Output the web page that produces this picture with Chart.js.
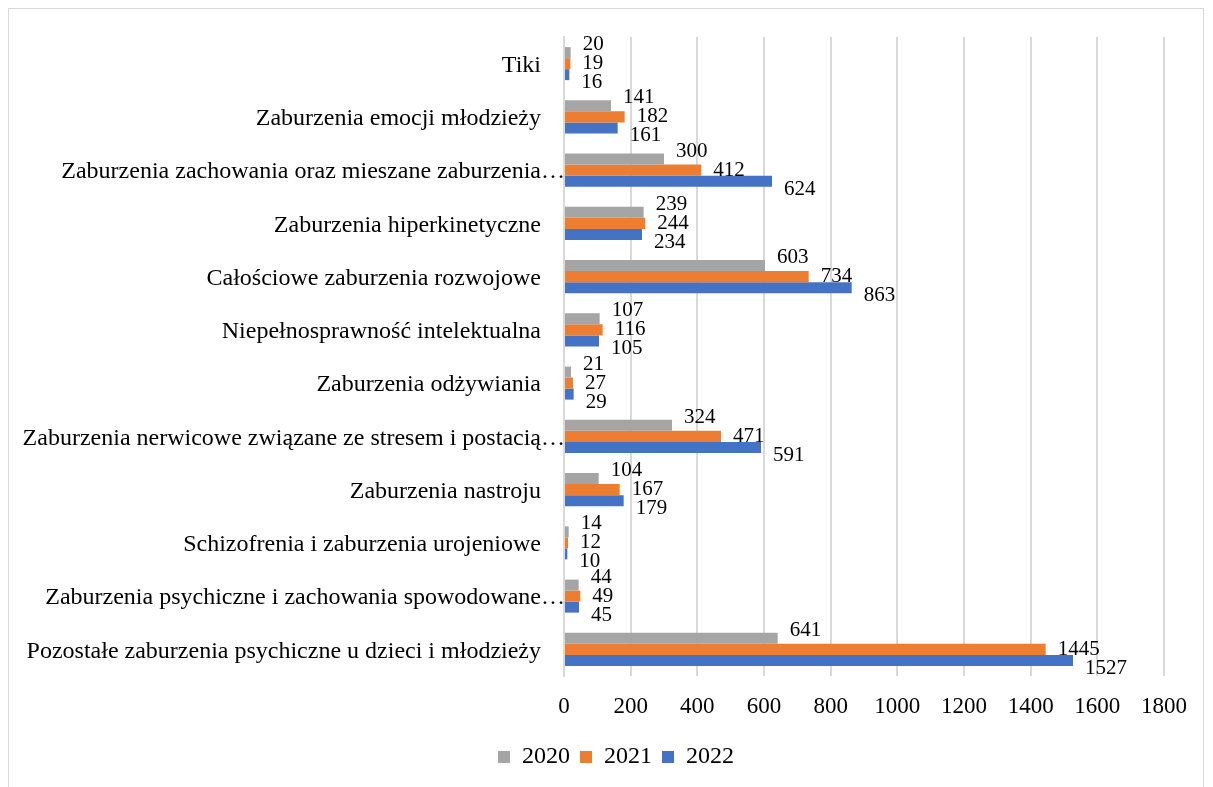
<!DOCTYPE html>
<html>
<head>
<meta charset="utf-8">
<script src="https://cdn.jsdelivr.net/npm/chart.js@4.4.1/dist/chart.umd.min.js"></script>
<style>
  body { margin: 0; background: #fff; overflow: hidden; }
  .frame {
    position: absolute; left: 8px; top: 8px;
    width: 1196px; height: 800px;
    border: 1px solid #d9d9d9; box-sizing: border-box;
  }
  .wrap { position: absolute; left: 9px; top: 9px; width: 1195px; height: 778px; }
</style>
</head>
<body>
<div class="frame"></div>
<div class="wrap"><canvas id="myChart"></canvas></div>
<script>
// categories (top to bottom)
const categories = [
  "Tiki",
  "Zaburzenia emocji młodzieży",
  "Zaburzenia zachowania oraz mieszane zaburzenia…",
  "Zaburzenia hiperkinetyczne",
  "Całościowe zaburzenia rozwojowe",
  "Niepełnosprawność intelektualna",
  "Zaburzenia odżywiania",
  "Zaburzenia nerwicowe związane ze stresem i postacią…",
  "Zaburzenia nastroju",
  "Schizofrenia i zaburzenia urojeniowe",
  "Zaburzenia psychiczne i zachowania spowodowane…",
  "Pozostałe zaburzenia psychiczne u dzieci i młodzieży"
];
const years = ["2020", "2021", "2022"];
const values2020 = [20, 141, 300, 239, 603, 107, 21, 324, 104, 14, 44, 641];
const values2021 = [19, 182, 412, 244, 734, 116, 27, 471, 167, 12, 49, 1445];
const values2022 = [16, 161, 624, 234, 863, 105, 29, 591, 179, 10, 45, 1527];
const xTicks = [0, 200, 400, 600, 800, 1000, 1200, 1400, 1600, 1800];

const colors = ['#a5a5a5', '#ed7d31', '#4472c4'];
const serif = "'Liberation Serif', 'Times New Roman', serif";

// value labels next to bar ends
const barLabels = {
  id: 'barLabels',
  afterDatasetsDraw(chart) {
    const ctx = chart.ctx;
    ctx.save();
    ctx.font = '21px ' + serif;
    ctx.fillStyle = '#000';
    ctx.textAlign = 'left';
    ctx.textBaseline = 'middle';
    chart.data.datasets.forEach((ds, di) => {
      const meta = chart.getDatasetMeta(di);
      meta.data.forEach((bar, i) => {
        ctx.fillText(String(ds.data[i]), bar.x + 12, bar.y + (di - 1) * 8);
      });
    });
    ctx.restore();
  }
};

// category labels: truncated ones let the "…" hang past the label edge, as Excel does
const catLabels = {
  id: 'catLabels',
  afterDraw(chart) {
    const ctx = chart.ctx;
    const yScale = chart.scales.y;
    ctx.save();
    ctx.font = '24px ' + serif;
    ctx.fillStyle = '#000';
    ctx.textAlign = 'right';
    ctx.textBaseline = 'middle';
    const ell = ctx.measureText('…').width;
    chart.data.labels.forEach((lab, i) => {
      let x = yScale.right - 23;
      if (lab.endsWith('…')) x += ell;
      ctx.fillText(lab, x, yScale.getPixelForTick(i) + 2);
    });
    ctx.restore();
  }
};

const data = {
  labels: categories,
  datasets: [
    { label: years[0], data: values2020, backgroundColor: colors[0] },
    { label: years[1], data: values2021, backgroundColor: colors[1] },
    { label: years[2], data: values2022, backgroundColor: colors[2] }
  ]
};

const config = {
  type: 'bar',
  data: data,
  options: {
    indexAxis: 'y',
    responsive: true,
    maintainAspectRatio: false,
    animation: false,
    datasets: { bar: { categoryPercentage: 0.62, barPercentage: 1.0 } },
    layout: { padding: { top: 28, right: 37, bottom: 8, left: 56 } },
    scales: {
      x: {
        min: 0, max: 1800,
        afterBuildTicks: (scale) => { scale.ticks = xTicks.map(v => ({ value: v })); },
        afterFit: (scale) => { scale.height = 59; },
        grid: { color: '#d9d9d9', lineWidth: 2, drawTicks: false },
        border: { display: false },
        ticks: {
          color: '#000', font: { family: serif, size: 23 }, padding: 17, maxRotation: 0,
          callback: (v) => String(v)
        }
      },
      y: {
        afterFit: (scale) => { scale.width = 499; },
        grid: { display: false, drawTicks: false },
        border: { display: true, color: '#d9d9d9', width: 2 },
        ticks: { display: false }
      }
    },
    plugins: {
      tooltip: { enabled: false },
      legend: {
        position: 'bottom',
        labels: {
          color: '#000',
          font: { family: serif, size: 24 },
          boxWidth: 12, boxHeight: 12,
          padding: 10
        }
      }
    }
  },
  plugins: [barLabels, catLabels]
};

const myChart = new Chart(document.getElementById('myChart'), config);
</script>
</body>
</html>
